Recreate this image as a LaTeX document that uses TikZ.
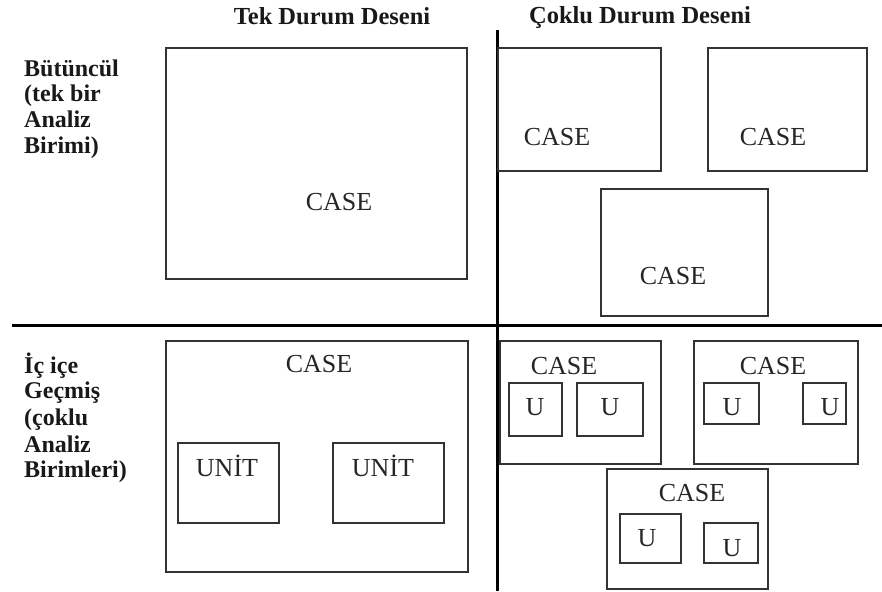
\documentclass[tikz,border=0pt]{standalone}
\usepackage{fontspec}
\setmainfont{Liberation Serif}
\begin{document}
\begin{tikzpicture}[x=1pt,y=-1pt,
  box/.style={draw=black!80, line width=1.4pt, inner sep=0pt, anchor=center},
  lbl/.style={anchor=base, inner sep=0pt, text=black!85, font=\fontsize{26}{28}\selectfont},
  ttl/.style={anchor=base, inner sep=0pt, text=black!90, font=\fontsize{24.5}{26}\selectfont\bfseries},
  side/.style={anchor=base west, inner sep=0pt, text=black!90, font=\fontsize{24}{26}\selectfont\bfseries},
  divider/.style={line width=3pt, black}]
\useasboundingbox (0,0) rectangle (882,591);
% dividers
\coordinate (vt) at (497,30);
\coordinate (vb) at (497,591);
\coordinate (hl) at (12,325);
\coordinate (hr) at (882,325);
\draw[divider] (vt) -- (vb);
\draw[divider] (hl) -- (hr);
% titles
\node[ttl] (t1) at (332,25) {Tek Durum Deseni};
\node[ttl] (t2) at (640,24) {Çoklu Durum Deseni};
% side labels
\node[side] (s1) at (24,77) {Bütüncül};
\node[side] (s2) at (24,102) {(tek bir};
\node[side] (s3) at (24,128) {Analiz};
\node[side] (s4) at (24,153) {Birimi)};
\node[side] (s5) at (24,373) {İç içe};
\node[side] (s6) at (24,398) {Geçmiş};
\node[side] (s7) at (24,425) {(çoklu};
\node[side] (s8) at (24,452) {Analiz};
\node[side] (s9) at (24,477) {Birimleri)};
% top-left
\node[box, minimum width=301, minimum height=231] (tl) at (316.5,163.5) {};
\node[lbl] (tlc) at (339,210) {CASE};
% top-right
\node[box, minimum width=163, minimum height=123] (tr1) at (579.5,109.5) {};
\node[lbl] (tr1c) at (557,145) {CASE};
\node[box, minimum width=159, minimum height=123] (tr2) at (787.5,109.5) {};
\node[lbl] (tr2c) at (773,145) {CASE};
\node[box, minimum width=167, minimum height=127] (tr3) at (684.5,252.5) {};
\node[lbl] (tr3c) at (673,284) {CASE};
% bottom-left
\node[box, minimum width=302, minimum height=231] (bl) at (317,456.5) {};
\node[lbl] (blc) at (319,372) {CASE};
\node[box, minimum width=101, minimum height=80] (u1) at (228.5,483) {};
\node[lbl] (u1t) at (227,476) {UNİT};
\node[box, minimum width=111, minimum height=80] (u2) at (388.5,483) {};
\node[lbl] (u2t) at (383,476) {UNİT};
% bottom-right A
\node[box, minimum width=161, minimum height=123] (ba) at (580.5,402.5) {};
\node[lbl] (bac) at (564,374) {CASE};
\node[box, minimum width=53, minimum height=53] (au1) at (535.5,409.5) {};
\node[lbl] (au1t) at (535,415) {U};
\node[box, minimum width=66, minimum height=53] (au2) at (610,409.5) {};
\node[lbl] (au2t) at (610,415) {U};
% B
\node[box, minimum width=164, minimum height=123] (bb) at (776,402.5) {};
\node[lbl] (bbc) at (773,374) {CASE};
\node[box, minimum width=55, minimum height=41] (bu1) at (731.5,403.5) {};
\node[lbl] (bu1t) at (732,415) {U};
\node[box, minimum width=43, minimum height=41] (bu2) at (824.5,403.5) {};
\node[lbl] (bu2t) at (830,415) {U};
% C
\node[box, minimum width=161, minimum height=120] (bc) at (687.5,529) {};
\node[lbl] (bcc) at (692,501) {CASE};
\node[box, minimum width=61, minimum height=49] (cu1) at (650.5,538.5) {};
\node[lbl] (cu1t) at (647,546) {U};
\node[box, minimum width=54, minimum height=40] (cu2) at (731,543) {};
\node[lbl] (cu2t) at (732,556) {U};
\end{tikzpicture}
\end{document}
